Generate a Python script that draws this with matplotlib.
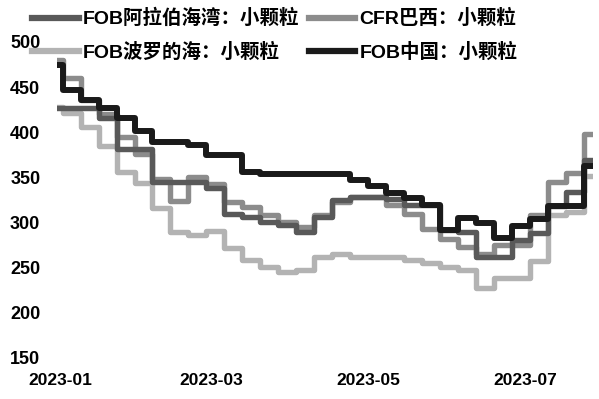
import numpy as np
import pandas as pd
import matplotlib
matplotlib.use("Agg")
import matplotlib.pyplot as plt
import matplotlib.dates as mdates

plt.rcParams['font.family'] = ['Liberation Sans', 'Noto Sans CJK SC', 'DejaVu Sans']
plt.rcParams['font.weight'] = 'bold'

# weekly price points (first value is the opening spike, then Mondays)
dates = pd.to_datetime(['2022-12-31']).append(pd.date_range('2023-01-02', periods=30, freq='7D'))
end_date = pd.Timestamp('2023-07-27')

fob_arab = [427, 427, 427, 416, 381, 381, 345, 345, 345, 338, 310, 306, 301, 297, 290, 306,
            325, 328, 328, 326, 319, 319, 292, 290, 262, 262, 281, 289, 318, 334, 369]
cfr_brazil = [480, 460, 436, 420, 395, 376, 348, 324, 350, 343, 323, 317, 308, 301, 295, 308,
              323, 328, 328, 319, 309, 293, 282, 273, 265, 275, 275, 308, 345, 355, 398]
fob_baltic = [428, 421, 406, 385, 356, 344, 316, 290, 286, 291, 272, 259, 251, 245, 248, 262,
              265, 262, 262, 262, 258, 255, 251, 248, 228, 239, 239, 257, 308, 312, 352]
fob_china = [475, 447, 436, 427, 416, 401, 389, 389, 386, 375, 375, 356, 354, 354, 354, 354,
             354, 347, 341, 333, 327, 319, 292, 305, 299, 283, 296, 304, 318, 318, 363]

labels = ['FOB阿拉伯海湾：小颗粒', 'FOB波罗的海：小颗粒', 'CFR巴西：小颗粒', 'FOB中国：小颗粒']
colors = {'arab': '#595959', 'brazil': '#8c8c8c', 'baltic': '#b3b3b3', 'china': '#1a1a1a'}

x = list(dates) + [end_date]

fig = plt.figure(figsize=(5.99, 3.99), dpi=100)
ax = fig.add_axes([57/599, 1-358/399, (593-57)/599, (358-42)/399])

lw = 3.9
l_baltic, = ax.plot(x, fob_baltic + fob_baltic[-1:], color=colors['baltic'], lw=lw, drawstyle='steps-post')
l_brazil, = ax.plot(x, cfr_brazil + cfr_brazil[-1:], color=colors['brazil'], lw=lw, drawstyle='steps-post')
l_arab, = ax.plot(x, fob_arab + fob_arab[-1:], color=colors['arab'], lw=lw, drawstyle='steps-post')
l_china, = ax.plot(x, fob_china + fob_china[-1:], color=colors['china'], lw=4.3, drawstyle='steps-post')

jan1 = mdates.date2num(pd.Timestamp('2023-01-01'))
ax.set_xlim(jan1 - 3/2.569, jan1 + 533/2.569)
ax.set_ylim(150, 500)
ax.set_yticks([150, 200, 250, 300, 350, 400, 450, 500])
ax.set_xticks(pd.to_datetime(['2023-01-01', '2023-03-01', '2023-05-01', '2023-07-01']))
ax.xaxis.set_major_formatter(mdates.DateFormatter('%Y-%m'))

for s in ax.spines.values():
    s.set_visible(False)
ax.tick_params(axis='both', length=0, labelsize=12.5)
ax.tick_params(axis='y', pad=12, labelsize=13)
ax.tick_params(axis='x', pad=11)

leg = fig.legend([l_arab, l_baltic, l_brazil, l_china], labels, ncol=2,
                 loc='upper left', bbox_to_anchor=(32/599, 1 - 9/399),
                 frameon=False, fontsize=14, handlelength=2.4, handletextpad=0.2,
                 columnspacing=0.5, labelspacing=0.72, borderpad=0, borderaxespad=0)
for h in leg.get_lines():
    h.set_linewidth(4.5)

fig.savefig('out.png', dpi=100)
